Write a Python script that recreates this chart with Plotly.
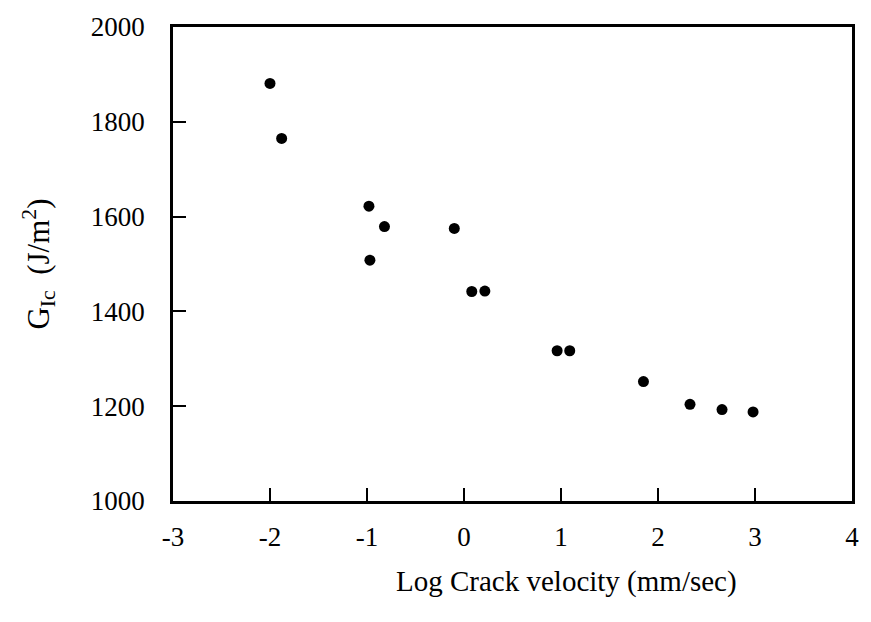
import plotly.graph_objects as go

log_velocity = [-2.00, -1.88, -0.98, -0.82, -0.10, -0.97, 0.08, 0.215, 0.96, 1.09, 1.85, 2.33, 2.66, 2.98]
g_ic = [1881, 1765, 1622, 1579, 1575, 1508, 1442, 1443, 1317, 1317, 1252, 1204, 1193, 1188]

x_ticks = [-3, -2, -1, 0, 1, 2, 3, 4]
y_ticks = [1000, 1200, 1400, 1600, 1800, 2000]

FONT = "Liberation Serif"

fig = go.Figure()
fig.add_trace(go.Scatter(
    x=log_velocity, y=g_ic, mode="markers",
    marker=dict(color="black", size=11),
    showlegend=False,
))

axis_common = dict(
    showgrid=False, zeroline=False, showline=True, linecolor="black",
    linewidth=2.5, mirror=True, ticks="inside", ticklen=13, tickwidth=1.5,
    tickcolor="black", tickfont=dict(family=FONT, size=27, color="black"),
)

fig.update_xaxes(range=[-3, 4], tickvals=x_ticks, ticktext=[str(v) for v in x_ticks],
                 ticklabelstandoff=10, **axis_common)
fig.update_yaxes(range=[1000, 2000], tickvals=y_ticks, ticktext=[str(v) for v in y_ticks],
                 ticklabelstandoff=20, **axis_common)

fig.add_annotation(
    text="Log Crack velocity (mm/sec)", xref="paper", yref="paper",
    x=0.58, y=-0.17, xanchor="center", yanchor="middle", showarrow=False,
    font=dict(family=FONT, size=29, color="black"),
)
fig.add_annotation(
    text="G<sub>Ic</sub>  (J/m<sup>2</sup>)", xref="paper", yref="paper",
    x=-0.198, y=0.50, xanchor="center", yanchor="middle", showarrow=False,
    textangle=-90, font=dict(family=FONT, size=31, color="black"),
)

fig.update_layout(
    width=871, height=622,
    margin=dict(l=173, r=13, t=25, b=121),
    plot_bgcolor="white", paper_bgcolor="white",
)

fig.write_html("out.html")
